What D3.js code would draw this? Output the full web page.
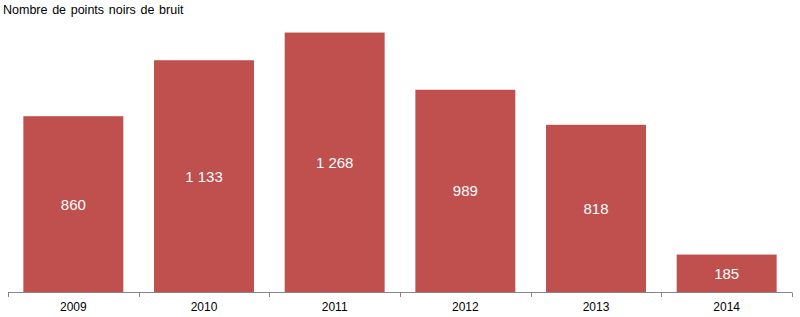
<!DOCTYPE html>
<html><head><meta charset="utf-8">
<script src="https://cdn.jsdelivr.net/npm/d3@7"></script>
<style>body{margin:0;background:#fff}svg{display:block}</style>
</head><body>
<svg id="c" width="800" height="317"></svg>
<script>
const categories = ["2009","2010","2011","2012","2013","2014"];
const values = [860, 1133, 1268, 989, 818, 185];
const labels = ["860","1 133","1 268","989","818","185"];
const title = "Nombre de points noirs de bruit";

const svg = d3.select("#c");
const font = "'Liberation Sans', Arial, sans-serif";
const x = d3.scaleBand().domain(categories).range([8, 792]).paddingInner(0.235).paddingOuter(0.1175);
const y = d3.scaleLinear().domain([0, 1400]).range([292.5, 5.5]);

svg.append("text").attr("x", 3).attr("y", 14).attr("font-family", font).attr("font-size", 12.5)
  .attr("word-spacing", 1.2).attr("fill", "#000").text(title);

svg.selectAll("rect.bar").data(values).join("rect")
  .attr("x", (d,i)=>x(categories[i])).attr("width", x.bandwidth())
  .attr("y", d=>y(d)).attr("height", d=>y(0)-y(d)).attr("fill", "#C0504D");

svg.selectAll("text.lab").data(values).join("text")
  .attr("x", (d,i)=>x(categories[i])+x.bandwidth()/2)
  .attr("y", d=>(y(d)+y(0))/2).attr("dy", "0.35em")
  .attr("text-anchor","middle").attr("font-family", font).attr("font-size", 15)
  .attr("fill","#fff").text((d,i)=>labels[i]);

const axisG = svg.append("g");
axisG.append("line").attr("x1", 8).attr("x2", 792).attr("y1", 292.5).attr("y2", 292.5).attr("stroke", "#868686");
const bounds = d3.range(categories.length+1).map(i => 8 + i*(784/categories.length));
axisG.selectAll("line.t").data(bounds).join("line")
  .attr("x1", d=>Math.round(d)+0.5).attr("x2", d=>Math.round(d)+0.5).attr("y1", 292.5).attr("y2", 297).attr("stroke", "#868686");
axisG.selectAll("text").data(categories).join("text")
  .attr("x", d=>x(d)+x.bandwidth()/2).attr("y", 311)
  .attr("text-anchor","middle").attr("font-family", font).attr("font-size", 12).attr("fill","#000").text(d=>d);
</script>
</body></html>
